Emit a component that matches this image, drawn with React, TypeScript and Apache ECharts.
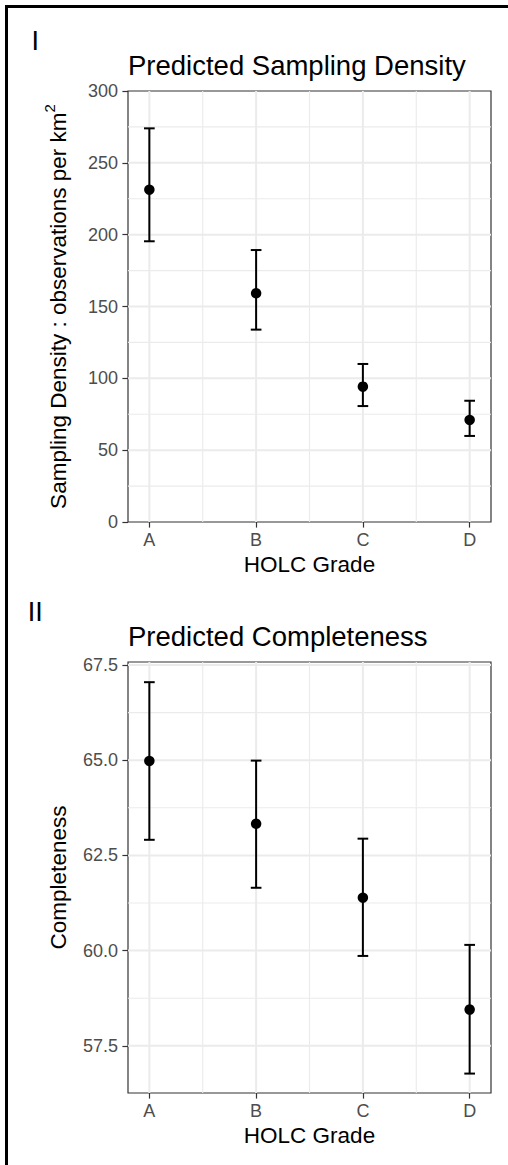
import React, { useEffect, useRef } from 'react';
import * as echarts from 'echarts';

// ---- Data ----
const grades = ['A', 'B', 'C', 'D'];

const densityMean = [231.3, 159.2, 94.2, 71.0];
const densityLower = [195.4, 133.9, 80.7, 59.9];
const densityUpper = [274.0, 189.3, 110.0, 84.4];
const densityTicks = [0, 50, 100, 150, 200, 250, 300];

const complMean = [64.98, 63.33, 61.39, 58.45];
const complLower = [62.91, 61.65, 59.86, 56.77];
const complUpper = [67.05, 64.99, 62.94, 60.15];
const complTicks = [57.5, 60.0, 62.5, 65.0, 67.5];

const FONT = '"Liberation Sans", Arial, Helvetica, sans-serif';

const X_MIN = 0.8;
const X_MAX = 4.2;

function midpoints(arr: number[]) {
  const out: number[] = [];
  for (let i = 0; i < arr.length - 1; i++) out.push((arr[i] + arr[i + 1]) / 2);
  return out;
}

function buildPanel(
  idx: number,
  mean: number[],
  lower: number[],
  upper: number[],
  ticks: number[],
  yMin: number,
  yMax: number,
  yName: string,
  yRich: any,
  fmt: (v: number) => string
) {
  const xTicks = grades.map((_, i) => i + 1);
  const xMinor = midpoints(xTicks);
  const yMinor = midpoints(ticks).filter((v) => v > yMin && v < yMax);
  const yMajor = ticks.filter((v) => v > yMin && v < yMax);

  const gridData: number[][] = [
    ...xTicks.map((v) => [0, v, 1]),
    ...xMinor.map((v) => [0, v, 0]),
    ...yMajor.map((v) => [1, v, 1]),
    ...yMinor.map((v) => [1, v, 0]),
  ];

  const xAxis = {
    gridIndex: idx,
    type: 'value',
    min: X_MIN,
    max: X_MAX,
    axisLine: { show: false },
    splitLine: { show: false },
    axisTick: {
      show: true,
      customValues: xTicks,
      length: 5.6,
      lineStyle: { color: '#333333', width: 1.2 },
    },
    axisLabel: {
      customValues: xTicks,
      formatter: (v: number) => grades[Math.round(v) - 1],
      color: '#4d4d4d',
      fontSize: 18,
      fontFamily: FONT,
      margin: 9,
    },
    name: 'HOLC Grade',
    nameLocation: 'middle',
    nameGap: 31,
    nameTextStyle: { fontSize: 22.5, color: '#000', fontFamily: FONT },
  };

  const yAxis = {
    gridIndex: idx,
    type: 'value',
    min: yMin,
    max: yMax,
    axisLine: { show: false },
    splitLine: { show: false },
    axisTick: {
      show: true,
      customValues: ticks,
      length: 5.6,
      lineStyle: { color: '#333333', width: 1.2 },
    },
    axisLabel: {
      customValues: ticks,
      formatter: fmt,
      color: '#4d4d4d',
      fontSize: 18,
      fontFamily: FONT,
      margin: 10,
    },
    name: yName,
    nameLocation: 'middle',
    nameGap: 58,
    nameTextStyle: {
      fontSize: 22.5,
      color: '#000',
      fontFamily: FONT,
      ...(yRich ? { rich: yRich } : {}),
    },
  };

  const series = [
    {
      type: 'custom',
      xAxisIndex: idx,
      yAxisIndex: idx,
      z: 1,
      silent: true,
      data: gridData,
      renderItem: (params: any, api: any) => {
        const kind = api.value(0);
        const v = api.value(1);
        const major = api.value(2);
        let a, b;
        if (kind === 0) {
          a = api.coord([v, yMin]);
          b = api.coord([v, yMax]);
        } else {
          a = api.coord([X_MIN, v]);
          b = api.coord([X_MAX, v]);
        }
        return {
          type: 'line',
          shape: { x1: a[0], y1: a[1], x2: b[0], y2: b[1] },
          style: { stroke: '#ebebeb', lineWidth: major ? 2 : 1.1 },
          silent: true,
        };
      },
    },
    {
      type: 'custom',
      xAxisIndex: idx,
      yAxisIndex: idx,
      z: 3,
      silent: true,
      data: grades.map((_, i) => [i + 1, lower[i], upper[i]]),
      encode: { x: 0, y: [1, 2] },
      renderItem: (params: any, api: any) => {
        const x = api.value(0);
        const lo = api.value(1);
        const hi = api.value(2);
        const pLo = api.coord([x, lo]);
        const pHi = api.coord([x, hi]);
        const l = api.coord([x - 0.05, hi]);
        const r = api.coord([x + 0.05, hi]);
        const hw = (r[0] - l[0]) / 2;
        const st = { stroke: '#000', lineWidth: 2 };
        return {
          type: 'group',
          children: [
            { type: 'line', shape: { x1: pLo[0], y1: pLo[1], x2: pHi[0], y2: pHi[1] }, style: st },
            { type: 'line', shape: { x1: pLo[0] - hw, y1: pLo[1], x2: pLo[0] + hw, y2: pLo[1] }, style: st },
            { type: 'line', shape: { x1: pHi[0] - hw, y1: pHi[1], x2: pHi[0] + hw, y2: pHi[1] }, style: st },
          ],
        };
      },
    },
    {
      type: 'scatter',
      xAxisIndex: idx,
      yAxisIndex: idx,
      z: 4,
      silent: true,
      symbol: 'circle',
      symbolSize: 10.5,
      itemStyle: { color: '#000', opacity: 1 },
      data: grades.map((_, i) => [i + 1, mean[i]]),
    },
  ];

  return { xAxis, yAxis, series };
}

export default function App() {
  const ref = useRef<HTMLDivElement>(null);

  useEffect(() => {
    if (!ref.current) return;
    const chart = echarts.init(ref.current, undefined, { renderer: 'svg' });

    const p1 = buildPanel(
      0,
      densityMean,
      densityLower,
      densityUpper,
      densityTicks,
      0,
      300,
      '{a|Sampling Density : observations per km}{s|2}',
      {
        a: { fontSize: 22.5, color: '#000', fontFamily: FONT, verticalAlign: 'bottom' },
        s: { fontSize: 15, color: '#000', fontFamily: FONT, verticalAlign: 'top', padding: [0, 0, 13.5, 0] },
      },
      (v: number) => String(Math.round(v))
    );
    const p2 = buildPanel(
      1,
      complMean,
      complLower,
      complUpper,
      complTicks,
      56.26,
      67.58,
      'Completeness',
      null,
      (v: number) => v.toFixed(1)
    );

    const titleStyle = { fontSize: 27.5, fontWeight: 'normal', color: '#000', fontFamily: FONT };

    chart.setOption({
      animation: false,
      backgroundColor: '#ffffff',
      title: [
        { text: 'Predicted Sampling Density', left: 128, top: 51.5, padding: 0, textStyle: titleStyle },
        { text: 'Predicted Completeness', left: 128, top: 622.5, padding: 0, textStyle: titleStyle },
      ],
      grid: [
        { left: 128, top: 91, width: 363, height: 431, show: true, borderColor: '#333333', borderWidth: 1.2, backgroundColor: 'transparent' },
        { left: 128, top: 662, width: 363, height: 431, show: true, borderColor: '#333333', borderWidth: 1.2, backgroundColor: 'transparent' },
      ],
      xAxis: [p1.xAxis, p2.xAxis],
      yAxis: [p1.yAxis, p2.yAxis],
      series: [...p1.series, ...p2.series],
      graphic: [
        {
          type: 'rect',
          silent: true,
          shape: { x: 6.5, y: 6.5, width: 1000, height: 2000 },
          style: { fill: 'none', stroke: '#000', lineWidth: 3 },
        },
        {
          type: 'text',
          silent: true,
          x: 35.3,
          y: 27.5,
          style: { text: 'I', fontSize: 27, fontFamily: FONT, fill: '#000', textAlign: 'center', textVerticalAlign: 'top', align: 'center', verticalAlign: 'top' },
        },
        {
          type: 'text',
          silent: true,
          x: 35.3,
          y: 598.5,
          style: { text: 'II', fontSize: 27, fontFamily: FONT, fill: '#000', textAlign: 'center', textVerticalAlign: 'top', align: 'center', verticalAlign: 'top' },
        },
      ],
    });

    return () => chart.dispose();
  }, []);

  return (
    <div
      ref={ref}
      style={{ position: 'fixed', left: 0, top: 0, width: 508, height: 1165, background: '#fff' }}
    />
  );
}
